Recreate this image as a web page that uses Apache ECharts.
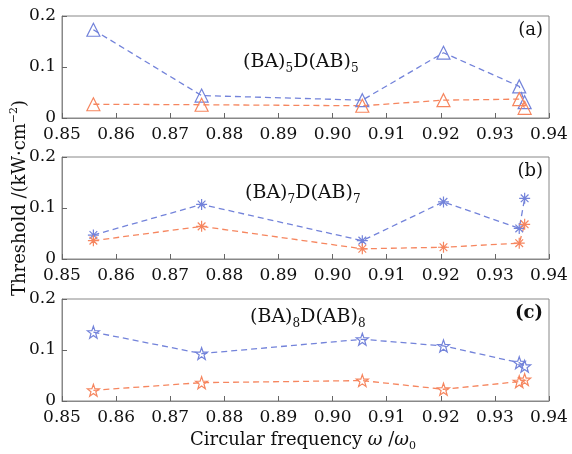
<!DOCTYPE html>
<html style="height: 100%">
<head>
    <meta charset="utf-8">
</head>
<body style="height: 100%; margin: 0; background: #fff">
<div id="container" style="width: 572px; height: 454px"></div>
<script type="text/javascript" src="https://cdn.jsdelivr.net/npm/echarts@6/dist/echarts.min.js"></script>
<script type="text/javascript">
// frequency points (omega / omega0), shared by all panels
var freq = [0.8558, 0.8758, 0.9055, 0.9205, 0.9345, 0.9355];
// thresholds, kW/cm^2
var aBlue = [0.173, 0.044, 0.035, 0.128, 0.062, 0.031];
var aRed  = [0.027, 0.026, 0.024, 0.035, 0.037, 0.020];
var bBlue = [0.047, 0.107, 0.036, 0.112, 0.060, 0.119];
var bRed  = [0.036, 0.064, 0.020, 0.023, 0.031, 0.068];
var cBlue = [0.135, 0.093, 0.121, 0.108, 0.075, 0.068];
var cRed  = [0.021, 0.036, 0.040, 0.023, 0.038, 0.042];
var panelNames = ['(a)', '(b)', '(c)'];
var periods = ['5', '7', '8'];

var dom = document.getElementById('container');
var myChart = echarts.init(dom);
var FONT = 'DejaVu Serif';
var BLUE = '#7383da';
var RED = '#f6865f';
var tops = [16, 157, 299];
var labelMid = [62, 193, 317];
var labelLeft = [243, 245, 250];

var asterisk = 'path://M0,-10L0,10M-10,0L10,0M-7,-7L7,7M-7,7L7,-7M-1.5,-1.5L1.5,-1.5L1.5,1.5L-1.5,1.5Z';
var star = 'path://M0,-10L2.35,-3.24L9.51,-3.09L3.8,1.24L5.88,8.09L0,4L-5.88,8.09L-3.8,1.24L-9.51,-3.09L-2.35,-3.24Z';
var symbols = [['triangle', 13], [asterisk, 11], [star, 12]];

function pairs(ys) {
    return freq.map(function (x, i) { return [x, ys[i]]; });
}

var grid = [], xAxis = [], yAxis = [], series = [];
tops.forEach(function (t, k) {
    grid.push({left: 62, right: 23, top: t, height: 102, show: true,
        borderColor: '#888', borderWidth: 1, backgroundColor: 'transparent'});
    xAxis.push({
        type: 'value', gridIndex: k, min: 0.85, max: 0.94, interval: 0.01,
        axisLine: {lineStyle: {color: '#888'}},
        axisTick: {inside: true, length: 5, lineStyle: {color: '#666'}},
        splitLine: {show: false},
        axisLabel: {margin: 8, color: '#111', fontFamily: FONT, fontSize: 17,
            formatter: function (v) { return v.toFixed(2); }}
    });
    yAxis.push({
        type: 'value', gridIndex: k, min: 0, max: 0.2, interval: 0.1,
        axisLine: {show: true, lineStyle: {color: '#888'}},
        axisTick: {show: true, inside: true, length: 5, lineStyle: {color: '#666'}},
        splitLine: {show: false},
        axisLabel: {margin: 6, color: '#111', fontFamily: FONT, fontSize: 17,
            formatter: function (v) { return v === 0 ? '0' : v.toFixed(1); }}
    });
});

var blues = [aBlue, bBlue, cBlue];
var reds = [aRed, bRed, cRed];
[0, 1, 2].forEach(function (k) {
    [[blues[k], BLUE], [reds[k], RED]].forEach(function (s) {
        series.push({
            type: 'line', xAxisIndex: k, yAxisIndex: k,
            data: pairs(s[0]),
            symbol: symbols[k][0], symbolSize: symbols[k][1],
            showAllSymbol: true,
            lineStyle: {color: s[1], width: 1.3, type: [6, 4]},
            itemStyle: {color: 'rgba(255,255,255,0)', borderColor: s[1], borderWidth: 1.2},
            emphasis: {disabled: true},
            z: 3
        });
    });
});

var graphic = [];
panelNames.forEach(function (p, k) {
    graphic.push({
        type: 'text', right: 29, top: tops[k] + 5,
        style: {text: p, fontFamily: FONT, fontSize: 18, fill: '#111',
            fontWeight: k === 2 ? 'bold' : 'normal'}
    });
    graphic.push({
        type: 'text', x: labelLeft[k], y: labelMid[k],
        style: {
            text: '(BA){s|' + periods[k] + '}D(AB){s|' + periods[k] + '}',
            fontFamily: FONT, fontSize: 19, fill: '#111',
            verticalAlign: 'middle',
            rich: {s: {fontFamily: FONT, fontSize: 12, fill: '#111', padding: [13, 0, 0, 0]}}
        }
    });
});
graphic.push({
    type: 'text', x: 303, y: 440,
    style: {
        text: 'Circular frequency {i|ω} /{i|ω}{s|0}',
        fontFamily: FONT, fontSize: 18, fill: '#111',
        align: 'center', verticalAlign: 'middle',
        rich: {
            i: {fontFamily: FONT, fontStyle: 'italic', fontSize: 18, fill: '#111'},
            s: {fontFamily: FONT, fontSize: 11, fill: '#111', padding: [12, 0, 0, 0]}
        }
    }
});
graphic.push({
    type: 'text', x: 20, y: 198, rotation: Math.PI / 2,
    style: {
        text: 'Threshold /(kW·cm{p|−2})',
        fontFamily: FONT, fontSize: 18, fill: '#111',
        align: 'center', verticalAlign: 'middle',
        rich: {p: {fontFamily: FONT, fontSize: 11, fill: '#111', padding: [0, 0, 11, 0]}}
    }
});

var option = {
    animation: false,
    grid: grid,
    xAxis: xAxis,
    yAxis: yAxis,
    series: series,
    graphic: graphic
};
myChart.setOption(option);
</script>
</body>
</html>
